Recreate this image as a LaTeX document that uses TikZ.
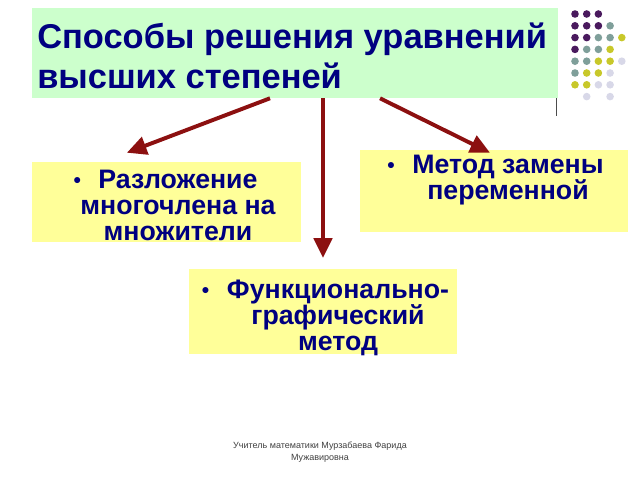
\documentclass[tikz,border=0pt]{standalone}
\usepackage{fontspec}
\setmainfont{Liberation Sans}
\usetikzlibrary{arrows.meta,fit}
\pgfdeclarelayer{bg}
\pgfsetlayers{bg,main}
\definecolor{navy}{HTML}{000080}
\definecolor{headgreen}{HTML}{CCFFCC}
\definecolor{padyellow}{HTML}{FFFF99}
\definecolor{arrred}{HTML}{8C1010}
\definecolor{dpur}{HTML}{4A1A5E}
\definecolor{dteal}{HTML}{7F9F9A}
\definecolor{dyel}{HTML}{C8C82A}
\definecolor{dlav}{HTML}{D8D8E8}
\newcommand{\blt}{\llap{\raisebox{0.6pt}{\fontsize{15}{15}\selectfont\textbullet}\hspace{12.5pt}}}

\begin{document}
\begin{tikzpicture}[x=0.025cm,y=-0.025cm,
  item/.style={align=center,text=navy,inner sep=0,font=\fontsize{19}{18.5}\selectfont\bfseries},
  pad/.style={fill=padyellow,inner sep=0},
  arr/.style={draw=arrred,line width=2.8pt,-{Triangle[length=14pt,width=13pt]}},
  dot/.style={circle,inner sep=0,minimum size=0.19cm}]
\useasboundingbox (0,0) rectangle (640,480);
\node[align=left,anchor=west,inner sep=0,text=navy,font=\fontsize{24.5}{28.5}\selectfont\bfseries] (head) at (37,56)
  {Способы решения уравнений\\высших степеней};
\node[item] (t1) at (178,205) {\blt Разложение\\многочлена на\\множители};
\node[item] (t2) at (508,180) {\blt Метод замены\\переменной};
\node[item] (t3) at (338,318) {\blt Функционально-\\графический\\метод};
\node[font=\fontsize{6.4}{8.5}\selectfont,text=black!75,align=center] (foot) at (320,452)
  {Учитель математики Мурзабаева Фарида\\Мужавировна};
\begin{pgfonlayer}{bg}
  \node[fit={(32,8) (558,98)},fill=headgreen,inner sep=0] (hbox) {};
  \node[pad,fit={(32,162) (301,242)}] (b1) {};
  \node[pad,fit={(360,150) (628,232)}] (b2) {};
  \node[pad,fit={(189,269) (457,354)}] (b3) {};
\end{pgfonlayer}
\draw[arr] ([xshift=-0.625cm]hbox.south) -- ([xshift=-0.99cm,yshift=0.225cm]b1.north);
\draw[arr] (hbox.south -| b3.north) -- ([yshift=0.27cm]b3.north);
\draw[arr] ([xshift=2.125cm]hbox.south) -- ([xshift=-0.1cm,yshift=-0.075cm]b2.north);
\draw[black!70,line width=0.8pt] ([xshift=-0.05cm]hbox.south east) -- ++(0,18);
% dots
\foreach \r/\c/\k in {0/0/dpur,0/1/dpur,0/2/dpur,
  1/0/dpur,1/1/dpur,1/2/dpur,1/3/dteal,
  2/0/dpur,2/1/dpur,2/2/dteal,2/3/dteal,2/4/dyel,
  3/0/dpur,3/1/dteal,3/2/dteal,3/3/dyel,
  4/0/dteal,4/1/dteal,4/2/dyel,4/3/dyel,4/4/dlav,
  5/0/dteal,5/1/dyel,5/2/dyel,5/3/dlav,
  6/0/dyel,6/1/dyel,6/2/dlav,6/3/dlav,
  7/1/dlav,7/3/dlav}
  \node[dot,fill=\k] (d\r\c) at (575+11.7*\c,14+11.8*\r) {};
\end{tikzpicture}
\end{document}
